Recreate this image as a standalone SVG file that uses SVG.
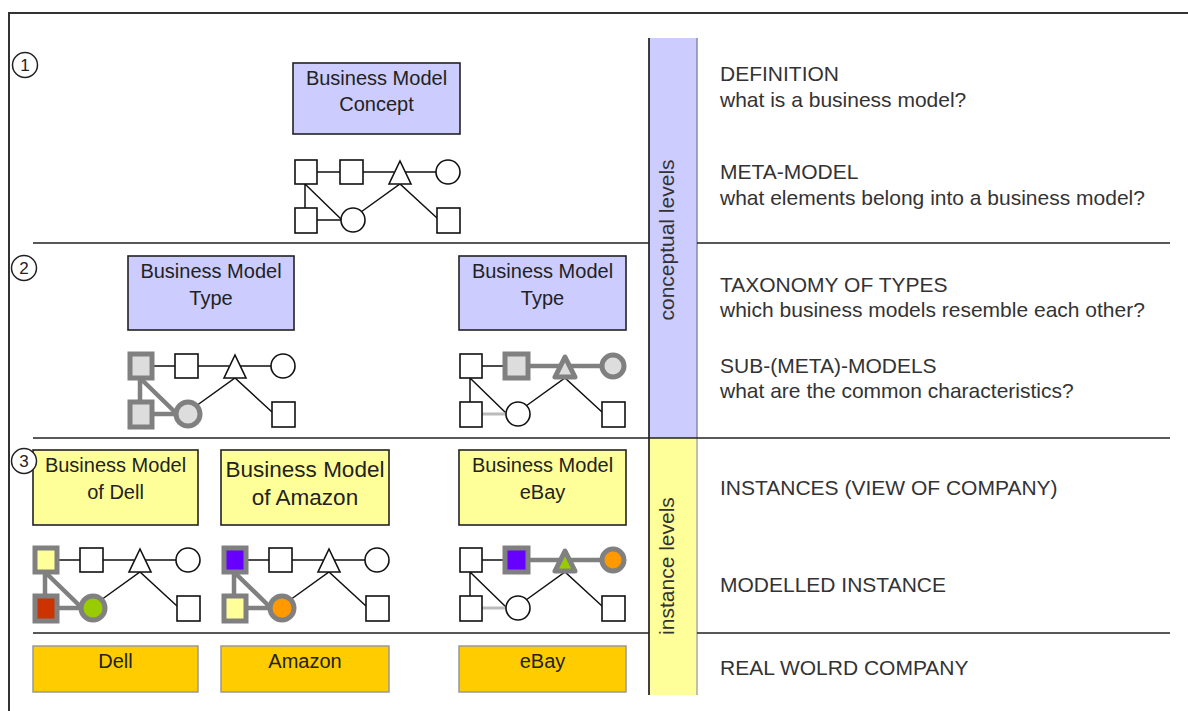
<svg xmlns="http://www.w3.org/2000/svg" width="1188" height="711" viewBox="0 0 1188 711">
<defs>
<style>
text{font-family:"Liberation Sans",Arial,sans-serif;}
.frame{stroke:#333;stroke-width:2;fill:none}
.div{stroke:#222;stroke-width:1.6;fill:none}
.box{stroke:#222;stroke-width:1.6}
.bl{font-size:20px;fill:#222;text-anchor:middle}
.rt{font-size:21px;fill:#333}
.vt{font-size:21px;fill:#333;text-anchor:middle}
.num{font-size:17px;fill:#222;text-anchor:middle}
.s{fill:#fff;stroke:#111;stroke-width:1.6}
.h{stroke:#808080;stroke-width:5}
.c{stroke:#111;stroke-width:1.5;fill:none}
.hc{stroke:#808080;stroke-width:4.5;fill:none}
.lc{stroke:#bbbbbb;stroke-width:3;fill:none}
</style>
</defs>
<rect width="1188" height="711" fill="#fff"/>
<!-- frame -->
<path class="frame" d="M9,711 V13 H1188"/>
<!-- vertical bars -->
<g id="bar-conceptual">
<rect x="649" y="38" width="48" height="400" fill="#ccccff"/>
<line x1="697" y1="38" x2="697" y2="438" stroke="#8888aa" stroke-width="1.5"/>
<text class="vt" transform="translate(674,240) rotate(-90)">conceptual levels</text>
</g>
<g id="bar-instance">
<rect x="649" y="438" width="48" height="257" fill="#ffff99"/>
<line x1="697" y1="438" x2="697" y2="695" stroke="#aaaaaa" stroke-width="1.5"/>
<text class="vt" transform="translate(674,566) rotate(-90)">instance levels</text>
</g>
<line x1="649" y1="38" x2="649" y2="695" stroke="#111" stroke-width="1.6"/>
<!-- dividers -->
<g id="dividers">
<path class="div" d="M33,243 H649 M697,243 H1170"/>
<path class="div" d="M33,438 H1170"/>
<path class="div" d="M33,633 H649 M697,633 H1170"/>
</g>
<!-- right texts -->
<g id="descriptions">
<text class="rt" x="720" y="81">DEFINITION</text>
<text class="rt" x="720" y="107">what is a business model?</text>
<text class="rt" x="720" y="179">META-MODEL</text>
<text class="rt" x="720" y="205">what elements belong into a business model?</text>
<text class="rt" x="720" y="292">TAXONOMY OF TYPES</text>
<text class="rt" x="720" y="317">which business models resemble each other?</text>
<text class="rt" x="720" y="373">SUB-(META)-MODELS</text>
<text class="rt" x="720" y="398">what are the common characteristics?</text>
<text class="rt" x="720" y="495">INSTANCES (VIEW OF COMPANY)</text>
<text class="rt" x="720" y="592">MODELLED INSTANCE</text>
<text class="rt" x="720" y="675">REAL WOLRD COMPANY</text>
</g>
<!-- level boxes -->
<g id="bm-concept">
<rect class="box" x="293" y="63" width="167" height="71" fill="#ccccff"/>
<text class="bl" x="376.5" y="85">Business Model</text>
<text class="bl" x="376.5" y="111">Concept</text>
</g>
<g id="bm-type-1">
<rect class="box" x="128" y="256" width="166" height="74" fill="#ccccff"/>
<text class="bl" x="211" y="278">Business Model</text>
<text class="bl" x="211" y="305">Type</text>
</g>
<g id="bm-type-2">
<rect class="box" x="459" y="256" width="167" height="74" fill="#ccccff"/>
<text class="bl" x="542.5" y="278">Business Model</text>
<text class="bl" x="542.5" y="305">Type</text>
</g>
<g id="bm-dell">
<rect class="box" x="33" y="450" width="165" height="75" fill="#ffff99"/>
<text class="bl" x="115.5" y="472">Business Model</text>
<text class="bl" x="115.5" y="499">of Dell</text>
</g>
<g id="bm-amazon">
<rect class="box" x="221" y="450" width="168" height="75" fill="#ffff99"/>
<text class="bl" x="305" y="477" style="font-size:22.5px">Business Model</text>
<text class="bl" x="305" y="505" style="font-size:22.5px">of Amazon</text>
</g>
<g id="bm-ebay">
<rect class="box" x="459" y="450" width="167" height="75" fill="#ffff99"/>
<text class="bl" x="542.5" y="472">Business Model</text>
<text class="bl" x="542.5" y="499">eBay</text>
</g>
<g id="co-dell">
<rect x="33" y="646" width="165" height="46" fill="#ffcc00" stroke="#999" stroke-width="1.5"/>
<text class="bl" x="115.5" y="668">Dell</text>
</g>
<g id="co-amazon">
<rect x="221" y="646" width="168" height="46" fill="#ffcc00" stroke="#999" stroke-width="1.5"/>
<text class="bl" x="305" y="668">Amazon</text>
</g>
<g id="co-ebay">
<rect x="459" y="646" width="167" height="46" fill="#ffcc00" stroke="#999" stroke-width="1.5"/>
<text class="bl" x="542.5" y="668">eBay</text>
</g>
<!-- circled numbers -->
<g id="num-1"><circle cx="25" cy="65" r="12.5" fill="#fff" stroke="#222" stroke-width="1.5"/><text class="num" x="25" y="71">1</text></g>
<g id="num-2"><circle cx="24" cy="268" r="12.5" fill="#fff" stroke="#222" stroke-width="1.5"/><text class="num" x="24" y="274">2</text></g>
<g id="num-3"><circle cx="24" cy="461" r="12.5" fill="#fff" stroke="#222" stroke-width="1.5"/><text class="num" x="24" y="467">3</text></g>

<!-- meta-model glyph 1 -->
<g id="meta-model" transform="translate(295,160)">
<g class="connectors">
<path class="c" d="M22,12H45 M68,12H99 M110,12H141 M10,24V48 M10,24L47,60 M22,60H46 M66,52L105,24 L142,58"/>
</g>
<rect class="s" x="0" y="0" width="22" height="24"/>
<rect class="s" x="45" y="0" width="23" height="24"/>
<polygon class="s" points="105,1 94,24 116,24"/>
<circle class="s" cx="153" cy="12" r="12"/>
<rect class="s" x="0" y="48" width="22" height="25"/>
<circle class="s" cx="58" cy="60" r="12"/>
<rect class="s" x="142" y="48" width="23" height="25"/>
</g>

<!-- type 1 glyph -->
<g id="sub-model-1" transform="translate(130,354)">
<g class="connectors">
<path class="c" d="M22,12H45 M68,12H99 M110,12H141 M66,52L105,24 L142,58"/>
<path class="hc" d="M10,24V48 M10,24L47,60 M22,60H46"/>
</g>
<rect class="s h" x="0" y="0" width="22" height="24" style="fill:#dddddd"/>
<rect class="s" x="45" y="0" width="23" height="24"/>
<polygon class="s" points="105,1 94,24 116,24"/>
<circle class="s" cx="153" cy="12" r="12"/>
<rect class="s h" x="0" y="48" width="22" height="25" style="fill:#dddddd"/>
<circle class="s h" cx="58" cy="60" r="12" style="fill:#dddddd"/>
<rect class="s" x="142" y="48" width="23" height="25"/>
</g>

<!-- type 2 glyph -->
<g id="sub-model-2" transform="translate(460,354)">
<g class="connectors">
<path class="c" d="M22,12H45 M10,24V48 M10,24L47,60 M66,52L105,24 L142,58"/>
<path class="lc" d="M22,60H46"/>
<path class="hc" d="M68,12H99 M110,12H141"/>
</g>
<rect class="s" x="0" y="0" width="22" height="24"/>
<rect class="s h" x="45" y="0" width="23" height="24" style="fill:#dddddd"/>
<polygon class="s h" points="105,3 95,23 115,23" style="fill:#dddddd;stroke-linejoin:round"/>
<circle class="s h" cx="153" cy="12" r="11" style="fill:#dddddd"/>
<rect class="s" x="0" y="48" width="22" height="25"/>
<circle class="s" cx="58" cy="60" r="12"/>
<rect class="s" x="142" y="48" width="23" height="25"/>
</g>

<!-- Dell glyph -->
<g id="instance-dell" transform="translate(35,548)">
<g class="connectors">
<path class="c" d="M22,12H45 M68,12H99 M110,12H141 M66,52L105,24 L142,58"/>
<path class="hc" d="M10,24V48 M10,24L47,60 M22,60H46"/>
</g>
<rect class="s h" x="0" y="0" width="22" height="24" style="fill:#ffff99"/>
<rect class="s" x="45" y="0" width="23" height="24"/>
<polygon class="s" points="105,1 94,24 116,24"/>
<circle class="s" cx="153" cy="12" r="12"/>
<rect class="s h" x="0" y="48" width="22" height="25" style="fill:#cc3300"/>
<circle class="s h" cx="58" cy="60" r="12" style="fill:#99cc00"/>
<rect class="s" x="142" y="48" width="23" height="25"/>
</g>

<!-- Amazon glyph -->
<g id="instance-amazon" transform="translate(224,548)">
<g class="connectors">
<path class="c" d="M22,12H45 M68,12H99 M110,12H141 M66,52L105,24 L142,58"/>
<path class="hc" d="M10,24V48 M10,24L47,60 M22,60H46"/>
</g>
<rect class="s h" x="0" y="0" width="22" height="24" style="fill:#6600ff"/>
<rect class="s" x="45" y="0" width="23" height="24"/>
<polygon class="s" points="105,1 94,24 116,24"/>
<circle class="s" cx="153" cy="12" r="12"/>
<rect class="s h" x="0" y="48" width="22" height="25" style="fill:#ffff99"/>
<circle class="s h" cx="58" cy="60" r="12" style="fill:#ff9900"/>
<rect class="s" x="142" y="48" width="23" height="25"/>
</g>

<!-- eBay glyph -->
<g id="instance-ebay" transform="translate(460,548)">
<g class="connectors">
<path class="c" d="M22,12H45 M10,24V48 M10,24L47,60 M66,52L105,24 L142,58"/>
<path class="lc" d="M22,60H46"/>
<path class="hc" d="M68,12H99 M110,12H141"/>
</g>
<rect class="s" x="0" y="0" width="22" height="24"/>
<rect class="s h" x="45" y="0" width="23" height="24" style="fill:#6600ff"/>
<polygon class="s h" points="105,3 95,23 115,23" style="fill:#99cc00;stroke-linejoin:round"/>
<circle class="s h" cx="153" cy="12" r="11" style="fill:#ff9900"/>
<rect class="s" x="0" y="48" width="22" height="25"/>
<circle class="s" cx="58" cy="60" r="12"/>
<rect class="s" x="142" y="48" width="23" height="25"/>
</g>
</svg>
